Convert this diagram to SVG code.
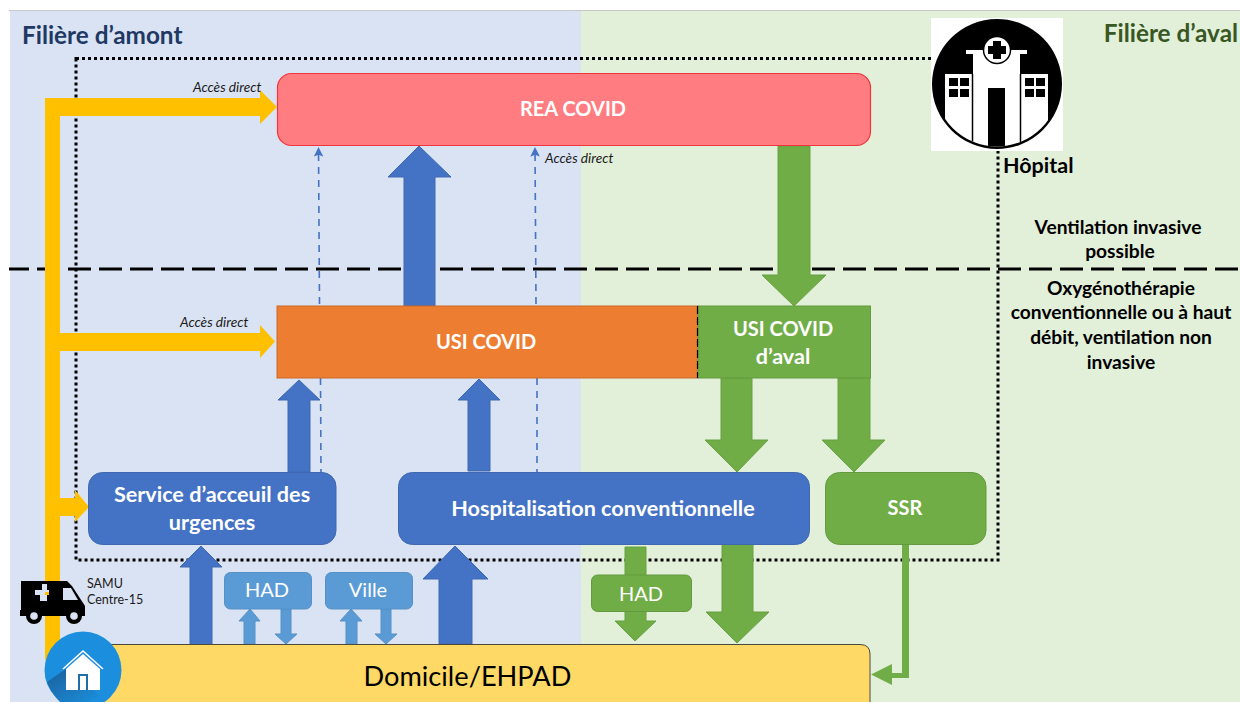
<svg xmlns="http://www.w3.org/2000/svg" width="1240" height="702" viewBox="0 0 1240 702">
<style>
text{font-family:"Lato","Carlito","Open Sans",sans-serif}
.b{font-weight:700;text-anchor:middle;fill:#fff;font-size:20px}
.m{font-weight:700;text-anchor:middle;fill:#fff;font-size:21.600px}
.k{font-weight:700;text-anchor:middle;fill:#000;font-size:19.200px}
.i{font-style:italic;fill:#1a1a1a;font-size:13.700px}
.l{text-anchor:middle;fill:#fff;font-size:20px}
.ab{fill:#4472c4;stroke:#3f68b0;stroke-width:1}
.ag{fill:#70ad47;stroke:#68a042;stroke-width:1}
.al{fill:#5b9bd5;stroke:#5590c6;stroke-width:1}
.dash{fill:none;stroke:#4472c4;stroke-width:1.600;stroke-dasharray:7 6}
</style>
<defs>
<marker id="ah" viewBox="0 0 10 10" refX="9" refY="5" markerWidth="6" markerHeight="6" orient="auto"><path d="M0 0L10 5L0 10L2 5Z" fill="#4472c4"/></marker>
<linearGradient id="sh" x1="0" y1="0" x2="1" y2="1"><stop offset="0" stop-color="#1b5f99"/><stop offset="1" stop-color="#1b8fdd"/></linearGradient>
<clipPath id="disc"><circle cx="997" cy="84" r="62.500"/></clipPath>
</defs>
<rect width="1240" height="702" fill="#fff"/>
<rect x="10" y="11" width="571" height="691" fill="#dae3f3"/>
<rect x="581" y="11" width="659" height="691" fill="#e2efd9"/>
<path d="M9 10.500H1240" stroke="#c8c8c8" stroke-width="1"/>
<text x="22" y="43.500" font-size="24.300" font-weight="700" fill="#203864">Filière d’amont</text>
<text x="1238" y="42" font-size="24.300" font-weight="700" fill="#385723" text-anchor="end">Filière d’aval</text>
<rect id="zone-hopital" x="76" y="58.500" width="922" height="501.500" fill="none" stroke="#000" stroke-width="3" stroke-dasharray="3 3"/>
<path d="M9 269H1240" stroke="#000" stroke-width="3" stroke-dasharray="23 8" stroke-dashoffset="3"/>

<g id="connectors">
<path d="M45 660V98H260V90L277 107L260 124V116H60V333H260V325L275 341.500L260 358V351H60V498H75V490L89 507L75 522V516H60V660Z" fill="#ffc000"/>
<path class="dash" d="M319.500 304L318.500 148" marker-end="url(#ah)"/>
<path class="dash" d="M320.500 378L321 472"/>
<path class="dash" d="M536 304L535 148" marker-end="url(#ah)"/>
<path class="dash" d="M537 378V472"/>
<path class="ab" d="M404 306V177H388L419 146L451 177H435V306Z"/>
<path class="ag" d="M778 146V275H762L794 306L826 275H810V146Z"/>
<path class="ab" d="M288 472V400H278L299 380L320 400H310V472Z"/>
<path class="ab" d="M468 471V400H458L479 379L500 400H490V471Z"/>
<path class="ag" d="M721 378V440H705L737 472L768 440H752V378Z"/>
<path class="ag" d="M838 378V440H822L854 472L885 440H870V378Z"/>
<path class="ab" d="M190 645V567H180L201 546L222 567H212V645Z"/>
<path class="ab" d="M439 644V579H423L455 546L488 579H472V644Z"/>
<path class="al" d="M244 644V621H239L250 609L260 621H255V644Z"/>
<path class="al" d="M281 609V634H275L286 644L297 634H291V609Z"/>
<path class="al" d="M346 644V621H340L351 609L362 621H357V644Z"/>
<path class="al" d="M381 609V634H375L386 644L397 634H391V609Z"/>
<path class="ag" d="M625 547V621H615L635 641L656 621H646V547Z"/>
<path class="ag" d="M722 544V612H706L737 643L769 612H753V544Z"/>
<path d="M902 544H909V678H892V685L871 674.500L892 664V673H902Z" fill="#70ad47"/>
</g>

<g id="rea-covid"><rect x="277.500" y="73.500" width="593" height="72" rx="14" fill="#ff7c80" stroke="#f0353c" stroke-width="1.200"/><text class="b" x="573" y="116">REA COVID</text></g>
<g id="usi-covid"><rect x="277" y="306" width="421" height="72" fill="#ed7d31" stroke="#c96a2a"/><text class="b" x="486" y="349">USI COVID</text></g>
<g id="usi-aval"><rect x="698" y="306" width="172.500" height="72" fill="#70ad47" stroke="#64993f"/><path d="M697.500 306V378" stroke="#000" stroke-width="1.200" stroke-dasharray="8 3"/><text class="b" x="783" y="336">USI COVID</text><text class="m" x="783" y="363.500">d’aval</text></g>
<g id="urgences"><rect x="88.500" y="472.500" width="247.500" height="72" rx="14" fill="#4472c4" stroke="#3f68b0"/><text class="m" x="212" y="502">Service d’acceuil des</text><text class="m" x="212" y="530">urgences</text></g>
<g id="hospitalisation"><rect x="398.500" y="472.500" width="411" height="72" rx="14" fill="#4472c4" stroke="#3f68b0"/><text class="m" x="603" y="515.500">Hospitalisation conventionnelle</text></g>
<g id="ssr"><rect x="825.500" y="472.500" width="160.500" height="72" rx="14" fill="#70ad47" stroke="#64993f"/><text class="b" x="905" y="515">SSR</text></g>
<g id="had-1"><rect x="224.500" y="572.500" width="87" height="36.500" rx="6" fill="#5b9bd5" stroke="#5590c6"/><text class="l" x="267" y="597">HAD</text></g>
<g id="ville"><rect x="325.500" y="572.500" width="87" height="36.500" rx="6" fill="#5b9bd5" stroke="#5590c6"/><text class="l" x="368" y="597">Ville</text></g>
<g id="had-2"><rect x="591.500" y="575" width="100" height="36.500" rx="6" fill="#70ad47" stroke="#64993f"/><text class="l" x="641" y="601">HAD</text></g>
<g id="domicile"><path d="M100 644.500H860Q870 644.500 870 654V712H100Z" fill="#ffd966" stroke="#4a4a3a" stroke-width="1"/><text x="467.500" y="686" font-size="27.200" fill="#000" text-anchor="middle">Domicile/EHPAD</text></g>

<g id="samu">
<path d="M21 581H67L72 586L85 606V616H20V610H21Z" fill="#000"/>
<path d="M63 588H71L78 600H63Z" fill="#dae3f3"/>
<path d="M35 590H42V584H47V590H49V595H47V601H40V595H35Z" fill="#dae3f3"/>
<rect x="45" y="592" width="4" height="3" fill="#ffc000"/>
<circle cx="34" cy="616" r="8" fill="#000"/><circle cx="34" cy="616" r="3.800" fill="#dae3f3"/>
<circle cx="74" cy="616" r="8" fill="#000"/><circle cx="74" cy="616" r="3.800" fill="#dae3f3"/>
<text x="87" y="588" font-size="12.500" fill="#1a1a1a">SAMU</text>
<text x="87" y="604" font-size="12.500" fill="#1a1a1a">Centre-15</text>
</g>

<g id="maison">
<circle cx="83" cy="670" r="38.500" fill="#1b8fdd"/>
<path d="M47 682L67 668L100 696L88 702H60Q52 694 47 682Z" fill="url(#sh)"/>
<path d="M63 669L83 651L103 669" fill="none" stroke="#fff" stroke-width="1.600"/>
<path d="M66 669L83 654L100 669V690H66Z" fill="#fff"/>
<path d="M78 674H88V690H78Z" fill="#1f6ea8"/><rect x="80" y="676" width="6" height="14" fill="#fff"/>
</g>

<g id="hopital">
<rect x="931" y="18" width="132" height="133" fill="#fff"/>
<circle cx="997" cy="84" r="65" fill="#000"/>
<g clip-path="url(#disc)">
<path d="M945 74H973V54H1020V74H1048V150H945Z" fill="#fff"/>
<path d="M988 88H1005V150H988Z" fill="#000"/>
<path d="M972.500 74V150M1020.500 74V150" stroke="#000" stroke-width="1.500"/>
</g>
<rect x="966" y="50" width="61" height="4" fill="#fff"/>
<circle cx="997" cy="50" r="13.500" fill="#fff" stroke="#000" stroke-width="1.500"/>
<path d="M993 41H1001V46H1006V54H1001V59H993V54H988V46H993Z" fill="#000"/>
<rect x="949" y="78" width="9" height="8"/><rect x="960" y="78" width="9" height="8"/><rect x="949" y="89" width="9" height="8"/><rect x="960" y="89" width="9" height="8"/>
<rect x="1025" y="78" width="9" height="8"/><rect x="1036" y="78" width="9" height="8"/><rect x="1025" y="89" width="9" height="8"/><rect x="1036" y="89" width="9" height="8"/>
<text x="1003" y="173" font-size="21.500" font-weight="700" fill="#000">Hôpital</text>
</g>

<g id="labels">
<text class="i" x="193" y="92">Accès direct</text>
<text class="i" x="545" y="163">Accès direct</text>
<text class="i" x="180" y="327">Accès direct</text>
<text class="k" x="1118" y="234">Ventilation invasive</text>
<text class="k" x="1120" y="258">possible</text>
<text class="k" x="1121" y="295">Oxygénothérapie</text>
<text class="k" x="1121" y="319">conventionnelle ou à haut</text>
<text class="k" x="1121" y="344">débit, ventilation non</text>
<text class="k" x="1121" y="369">invasive</text>
</g>
</svg>
